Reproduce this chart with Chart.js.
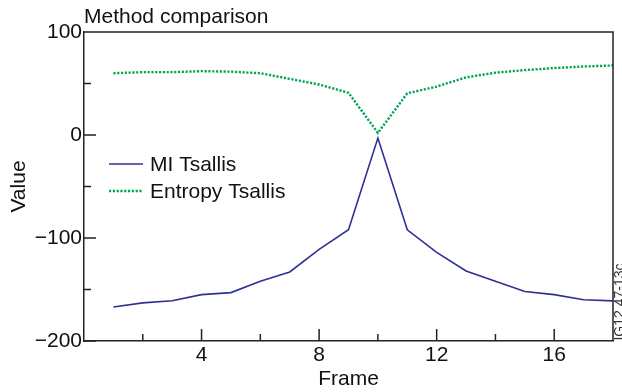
<!DOCTYPE html>
<html>
<head>
<meta charset="utf-8">
<script src="https://cdn.jsdelivr.net/npm/chart.js@4.4.1/dist/chart.umd.min.js"></script>
<style>
  html, body { margin: 0; padding: 0; background: #fff; }
</style>
</head>
<body>
<canvas id="myChart" width="622" height="392"></canvas>
<script>
const frames = [1, 2, 3, 4, 5, 6, 7, 8, 9, 10, 11, 12, 13, 14, 15, 16, 17, 18];
const miTsallis = [-167, -163, -161, -155, -153, -142, -133, -111, -92, -3, -92, -114, -132, -142, -152, -155, -160, -161];
const entropyTsallis = [60, 61, 61, 62, 61.5, 60, 54.5, 49, 41, 2, 40.5, 47, 56, 60.5, 63, 65, 66.5, 67.5];
const xTicks = [4, 8, 12, 16];
const xMinor = [2, 6, 10, 14];
const yTicks = [-200, -100, 0, 100];
const yMinor = [-150, -50, 50];

const FONT = 'Liberation Sans, Arial, sans-serif';
const SIZE = 21;
const AXIS = '#222';

// inward tick marks, top/right frame, title and the side code
const frameAndTicks = {
    id: 'frameAndTicks',
    afterDatasetsDraw(chart) {
        const ctx = chart.ctx;
        const a = chart.chartArea;
        const xs = chart.scales.x, ys = chart.scales.y;
        ctx.save();
        ctx.strokeStyle = AXIS;
        ctx.lineWidth = 1.5;
        ctx.beginPath();
        ctx.moveTo(a.left, a.top);
        ctx.lineTo(a.right, a.top);
        ctx.lineTo(a.right, a.bottom);
        xTicks.forEach(v => { const p = xs.getPixelForValue(v); ctx.moveTo(p, a.bottom); ctx.lineTo(p, a.bottom - 12); });
        xMinor.forEach(v => { const p = xs.getPixelForValue(v); ctx.moveTo(p, a.bottom); ctx.lineTo(p, a.bottom - 7); });
        yTicks.forEach(v => { const p = ys.getPixelForValue(v); ctx.moveTo(a.left, p); ctx.lineTo(a.left + 12, p); });
        yMinor.forEach(v => { const p = ys.getPixelForValue(v); ctx.moveTo(a.left, p); ctx.lineTo(a.left + 7, p); });
        ctx.stroke();

        ctx.fillStyle = '#111';
        ctx.font = SIZE + 'px ' + FONT;
        ctx.textAlign = 'left';
        ctx.textBaseline = 'middle';
        ctx.fillText('Method comparison', a.left, 17);

        ctx.translate(624, 302);
        ctx.rotate(-Math.PI / 2);
        ctx.font = '14px ' + FONT;
        ctx.fillStyle = '#333';
        ctx.textAlign = 'center';
        ctx.textBaseline = 'alphabetic';
        ctx.fillText('IG12.47-13c', 0, 0);
        ctx.restore();
    }
};

// legend placed inside the plot
const innerLegend = {
    id: 'innerLegend',
    afterDatasetsDraw(chart) {
        const ctx = chart.ctx;
        ctx.save();
        chart.data.datasets.forEach((ds, i) => {
            const y = 164 + i * 27;
            ctx.strokeStyle = ds.borderColor;
            ctx.lineWidth = ds.borderWidth;
            ctx.setLineDash(ds.borderDash || []);
            ctx.beginPath();
            ctx.moveTo(109, y);
            ctx.lineTo(143, y);
            ctx.stroke();
            ctx.setLineDash([]);
            ctx.fillStyle = '#111';
            ctx.font = SIZE + 'px ' + FONT;
            ctx.textAlign = 'left';
            ctx.textBaseline = 'middle';
            ctx.fillText(ds.label, 150, y + 1);
        });
        ctx.restore();
    }
};

const ctx = document.getElementById('myChart').getContext('2d');
const myChart = new Chart(ctx, {
    type: 'line',
    data: {
        datasets: [{
            label: 'MI Tsallis',
            data: frames.map((f, i) => ({ x: f, y: miTsallis[i] })),
            borderColor: '#2e3192',
            borderWidth: 1.6,
            pointRadius: 0,
            tension: 0
        }, {
            label: 'Entropy Tsallis',
            data: frames.map((f, i) => ({ x: f, y: entropyTsallis[i] })),
            borderColor: '#00a651',
            borderWidth: 2.4,
            borderDash: [2.2, 1.6],
            pointRadius: 0,
            tension: 0
        }]
    },
    options: {
        responsive: false,
        animation: false,
        events: [],
        layout: { padding: { top: 32, right: 9, left: 0, bottom: 0 } },
        plugins: {
            legend: { display: false },
            title: { display: false },
            tooltip: { enabled: false }
        },
        scales: {
            x: {
                type: 'linear',
                min: 0,
                max: 18,
                afterBuildTicks: s => { s.ticks = xTicks.map(v => ({ value: v })); },
                afterFit: s => { s.height = 51; },
                grid: { display: false, drawTicks: false },
                border: { display: true, color: AXIS, width: 1.5 },
                ticks: { color: '#111', padding: 2, maxRotation: 0, font: { family: FONT, size: SIZE } },
                title: { display: true, text: 'Frame', color: '#111', padding: { top: 0, bottom: 0 }, font: { family: FONT, size: SIZE } }
            },
            y: {
                min: -200,
                max: 100,
                afterBuildTicks: s => { s.ticks = yTicks.map(v => ({ value: v })); },
                afterFit: s => { s.width = 84; },
                grid: { display: false, drawTicks: false },
                border: { display: true, color: AXIS, width: 1.5 },
                ticks: {
                    color: '#111',
                    padding: 2,
                    font: { family: FONT, size: SIZE },
                    callback: v => String(v).replace('-', '\u2212')
                },
                title: { display: true, text: 'Value', color: '#111', padding: { top: 7, bottom: 0 }, font: { family: FONT, size: SIZE } }
            }
        }
    },
    plugins: [frameAndTicks, innerLegend]
});
</script>
</body>
</html>
